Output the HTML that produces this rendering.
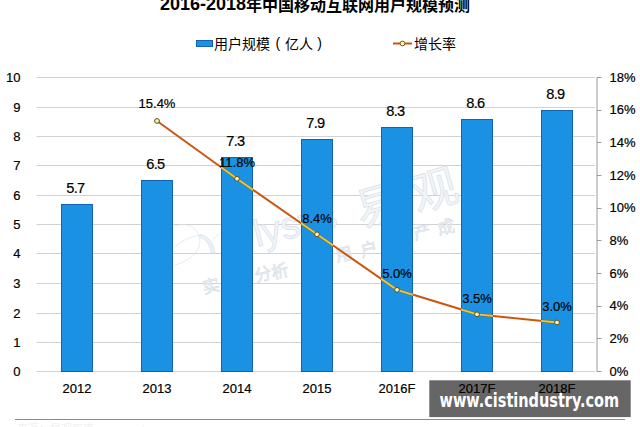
<!DOCTYPE html>
<html><head><meta charset="utf-8"><style>
html,body{margin:0;padding:0;background:#fff;width:640px;height:427px;overflow:hidden}
svg{display:block}
text{font-family:"Liberation Sans", "Noto Sans CJK SC", sans-serif}
</style></head><body>
<svg width="640" height="427" viewBox="0 0 640 427">
<rect width="640" height="427" fill="#fff"/>

<line x1="36.5" y1="371.5" x2="595.0" y2="371.5" stroke="#d2d2d2" stroke-width="1"/>
<line x1="36.5" y1="342.5" x2="595.0" y2="342.5" stroke="#d2d2d2" stroke-width="1"/>
<line x1="36.5" y1="313.5" x2="595.0" y2="313.5" stroke="#d2d2d2" stroke-width="1"/>
<line x1="36.5" y1="283.5" x2="595.0" y2="283.5" stroke="#d2d2d2" stroke-width="1"/>
<line x1="36.5" y1="253.5" x2="595.0" y2="253.5" stroke="#d2d2d2" stroke-width="1"/>
<line x1="36.5" y1="224.5" x2="595.0" y2="224.5" stroke="#d2d2d2" stroke-width="1"/>
<line x1="36.5" y1="195.5" x2="595.0" y2="195.5" stroke="#d2d2d2" stroke-width="1"/>
<line x1="36.5" y1="165.5" x2="595.0" y2="165.5" stroke="#d2d2d2" stroke-width="1"/>
<line x1="36.5" y1="136.5" x2="595.0" y2="136.5" stroke="#d2d2d2" stroke-width="1"/>
<line x1="36.5" y1="107.5" x2="595.0" y2="107.5" stroke="#d2d2d2" stroke-width="1"/>
<line x1="36.5" y1="77.5" x2="595.0" y2="77.5" stroke="#d2d2d2" stroke-width="1"/>
<g fill="#f1f5f8" stroke="#d8e1e9" stroke-width="0.7" font-family='"Liberation Sans","Noto Sans CJK SC",sans-serif'>
<path d="M175,226 C185,222 196,226 199,236 C203,248 193,260 175,265" fill="none"/>
<path d="M175,247 C182,240 192,236 201,235 M213,239 L219,234" fill="none"/><path d="M200,234.5 C208,235 214,243 215,253 L211,253 C210,245 206,239 200,237.5 Z" fill="#e9f0f6"/>
<text transform="translate(257,247) rotate(-14)" font-size="38">lysys</text>
<text transform="translate(361,228) rotate(-16)" font-size="46" letter-spacing="12">易观</text>
<text x="204 256 273 337 362 415 439" y="294 282 279 262 257 240 235" rotate="-13" font-size="17">实分析用户产成</text>
</g>
<rect x="61.50" y="204.50" width="31" height="167.00" fill="#1b91e3" stroke="#1262b0" stroke-width="1"/>
<rect x="141.50" y="180.50" width="31" height="191.00" fill="#1b91e3" stroke="#1262b0" stroke-width="1"/>
<rect x="221.50" y="157.50" width="31" height="214.00" fill="#1b91e3" stroke="#1262b0" stroke-width="1"/>
<rect x="301.50" y="139.50" width="31" height="232.00" fill="#1b91e3" stroke="#1262b0" stroke-width="1"/>
<rect x="381.50" y="127.50" width="31" height="244.00" fill="#1b91e3" stroke="#1262b0" stroke-width="1"/>
<rect x="461.50" y="119.50" width="31" height="252.00" fill="#1b91e3" stroke="#1262b0" stroke-width="1"/>
<rect x="541.50" y="110.50" width="31" height="261.00" fill="#1b91e3" stroke="#1262b0" stroke-width="1"/>
<line x1="597.0" y1="77" x2="597.0" y2="372" stroke="#9a9a9a" stroke-width="1"/>
<line x1="597.0" y1="371.5" x2="601.5" y2="371.5" stroke="#9a9a9a" stroke-width="1"/>
<line x1="597.0" y1="338.5" x2="601.5" y2="338.5" stroke="#9a9a9a" stroke-width="1"/>
<line x1="597.0" y1="306.5" x2="601.5" y2="306.5" stroke="#9a9a9a" stroke-width="1"/>
<line x1="597.0" y1="273.5" x2="601.5" y2="273.5" stroke="#9a9a9a" stroke-width="1"/>
<line x1="597.0" y1="240.5" x2="601.5" y2="240.5" stroke="#9a9a9a" stroke-width="1"/>
<line x1="597.0" y1="208.5" x2="601.5" y2="208.5" stroke="#9a9a9a" stroke-width="1"/>
<line x1="597.0" y1="175.5" x2="601.5" y2="175.5" stroke="#9a9a9a" stroke-width="1"/>
<line x1="597.0" y1="142.5" x2="601.5" y2="142.5" stroke="#9a9a9a" stroke-width="1"/>
<line x1="597.0" y1="110.5" x2="601.5" y2="110.5" stroke="#9a9a9a" stroke-width="1"/>
<line x1="597.0" y1="77.5" x2="601.5" y2="77.5" stroke="#9a9a9a" stroke-width="1"/>
<defs><clipPath id="bc">
<rect x="61.00" y="204.00" width="32" height="168.00"/>
<rect x="141.00" y="180.00" width="32" height="192.00"/>
<rect x="221.00" y="157.00" width="32" height="215.00"/>
<rect x="301.00" y="139.00" width="32" height="233.00"/>
<rect x="381.00" y="127.00" width="32" height="245.00"/>
<rect x="461.00" y="119.00" width="32" height="253.00"/>
<rect x="541.00" y="110.00" width="32" height="262.00"/>
</clipPath></defs>
<path d="M157.00,120.97 L237.00,178.77 L317.00,234.30 L397.00,289.83 L477.00,314.33 L557.00,322.50" fill="none" stroke="#ca560f" stroke-width="2" stroke-linejoin="round"/>
<path d="M157.00,120.97 L237.00,178.77 L317.00,234.30 L397.00,289.83 L477.00,314.33 L557.00,322.50" fill="none" stroke="#7a7030" stroke-width="2.8" clip-path="url(#bc)"/>
<path d="M157.00,120.97 L237.00,178.77 L317.00,234.30 L397.00,289.83 L477.00,314.33 L557.00,322.50" fill="none" stroke="#e4c84a" stroke-width="1.8" clip-path="url(#bc)"/>
<circle cx="157" cy="120.97" r="2.4" fill="#f8f2b8" stroke="#5e4e14" stroke-width="1"/>
<circle cx="237" cy="178.77" r="2.4" fill="#f8f2b8" stroke="#5e4e14" stroke-width="1"/>
<circle cx="317" cy="234.30" r="2.4" fill="#f8f2b8" stroke="#5e4e14" stroke-width="1"/>
<circle cx="397" cy="289.83" r="2.4" fill="#f8f2b8" stroke="#5e4e14" stroke-width="1"/>
<circle cx="477" cy="314.33" r="2.4" fill="#f8f2b8" stroke="#5e4e14" stroke-width="1"/>
<circle cx="557" cy="322.50" r="2.4" fill="#f8f2b8" stroke="#5e4e14" stroke-width="1"/>
<text x="20.5" y="375.80" font-size="13" text-anchor="end" fill="#000" stroke="#000" stroke-width="0.2">0</text>
<text x="20.5" y="346.80" font-size="13" text-anchor="end" fill="#000" stroke="#000" stroke-width="0.2">1</text>
<text x="20.5" y="317.80" font-size="13" text-anchor="end" fill="#000" stroke="#000" stroke-width="0.2">2</text>
<text x="20.5" y="287.80" font-size="13" text-anchor="end" fill="#000" stroke="#000" stroke-width="0.2">3</text>
<text x="20.5" y="257.80" font-size="13" text-anchor="end" fill="#000" stroke="#000" stroke-width="0.2">4</text>
<text x="20.5" y="228.80" font-size="13" text-anchor="end" fill="#000" stroke="#000" stroke-width="0.2">5</text>
<text x="20.5" y="199.80" font-size="13" text-anchor="end" fill="#000" stroke="#000" stroke-width="0.2">6</text>
<text x="20.5" y="169.80" font-size="13" text-anchor="end" fill="#000" stroke="#000" stroke-width="0.2">7</text>
<text x="20.5" y="140.80" font-size="13" text-anchor="end" fill="#000" stroke="#000" stroke-width="0.2">8</text>
<text x="20.5" y="111.80" font-size="13" text-anchor="end" fill="#000" stroke="#000" stroke-width="0.2">9</text>
<text x="20.5" y="81.80" font-size="13" text-anchor="end" fill="#000" stroke="#000" stroke-width="0.2">10</text>
<text x="609.5" y="375.80" font-size="13" fill="#000" stroke="#000" stroke-width="0.2">0%</text>
<text x="609.5" y="343.13" font-size="13" fill="#000" stroke="#000" stroke-width="0.2">2%</text>
<text x="609.5" y="310.47" font-size="13" fill="#000" stroke="#000" stroke-width="0.2">4%</text>
<text x="609.5" y="277.80" font-size="13" fill="#000" stroke="#000" stroke-width="0.2">6%</text>
<text x="609.5" y="245.13" font-size="13" fill="#000" stroke="#000" stroke-width="0.2">8%</text>
<text x="609.5" y="212.47" font-size="13" fill="#000" stroke="#000" stroke-width="0.2">10%</text>
<text x="609.5" y="179.80" font-size="13" fill="#000" stroke="#000" stroke-width="0.2">12%</text>
<text x="609.5" y="147.13" font-size="13" fill="#000" stroke="#000" stroke-width="0.2">14%</text>
<text x="609.5" y="114.47" font-size="13" fill="#000" stroke="#000" stroke-width="0.2">16%</text>
<text x="609.5" y="81.80" font-size="13" fill="#000" stroke="#000" stroke-width="0.2">18%</text>
<text x="75.4" y="193.30" font-size="14.6" letter-spacing="-0.6" text-anchor="middle" fill="#000" stroke="#000" stroke-width="0.2">5.7</text>
<text x="155.4" y="169.30" font-size="14.6" letter-spacing="-0.6" text-anchor="middle" fill="#000" stroke="#000" stroke-width="0.2">6.5</text>
<text x="235.4" y="146.30" font-size="14.6" letter-spacing="-0.6" text-anchor="middle" fill="#000" stroke="#000" stroke-width="0.2">7.3</text>
<text x="315.4" y="128.30" font-size="14.6" letter-spacing="-0.6" text-anchor="middle" fill="#000" stroke="#000" stroke-width="0.2">7.9</text>
<text x="395.4" y="116.30" font-size="14.6" letter-spacing="-0.6" text-anchor="middle" fill="#000" stroke="#000" stroke-width="0.2">8.3</text>
<text x="475.4" y="108.30" font-size="14.6" letter-spacing="-0.6" text-anchor="middle" fill="#000" stroke="#000" stroke-width="0.2">8.6</text>
<text x="555.4" y="99.30" font-size="14.6" letter-spacing="-0.6" text-anchor="middle" fill="#000" stroke="#000" stroke-width="0.2">8.9</text>
<text x="157" y="108.47" font-size="13" text-anchor="middle" fill="#000" stroke="#000" stroke-width="0.2">15.4%</text>
<text x="237" y="167.27" font-size="13" text-anchor="middle" fill="#000" stroke="#000" stroke-width="0.2">11.8%</text>
<text x="317" y="222.80" font-size="13" text-anchor="middle" fill="#000" stroke="#000" stroke-width="0.2">8.4%</text>
<text x="397" y="278.33" font-size="13" text-anchor="middle" fill="#000" stroke="#000" stroke-width="0.2">5.0%</text>
<text x="477" y="302.83" font-size="13" text-anchor="middle" fill="#000" stroke="#000" stroke-width="0.2">3.5%</text>
<text x="557" y="311.00" font-size="13" text-anchor="middle" fill="#000" stroke="#000" stroke-width="0.2">3.0%</text>
<text x="77" y="393" font-size="13" text-anchor="middle" fill="#000" stroke="#000" stroke-width="0.2">2012</text>
<text x="157" y="393" font-size="13" text-anchor="middle" fill="#000" stroke="#000" stroke-width="0.2">2013</text>
<text x="237" y="393" font-size="13" text-anchor="middle" fill="#000" stroke="#000" stroke-width="0.2">2014</text>
<text x="317" y="393" font-size="13" text-anchor="middle" fill="#000" stroke="#000" stroke-width="0.2">2015</text>
<text x="397" y="393" font-size="13" text-anchor="middle" fill="#000" stroke="#000" stroke-width="0.2">2016F</text>
<text x="477" y="393" font-size="13" text-anchor="middle" fill="#000" stroke="#000" stroke-width="0.2">2017F</text>
<text x="557" y="393" font-size="13" text-anchor="middle" fill="#000" stroke="#000" stroke-width="0.2">2018F</text>
<text x="160" y="9.6" font-size="16" font-weight="bold" fill="#000"><tspan font-size="18">2016-2018</tspan><tspan dy="1.3">年中国移动互联网用户规模预测</tspan></text>
<rect x="196.5" y="40.5" width="16" height="6" fill="#1b91e3" stroke="#1262b0" stroke-width="1"/>
<text x="214" y="48.6" font-size="14" fill="#000">用户规模</text>
<text x="275.4" y="48.4" font-size="14" fill="#000">(</text>
<text x="284.9" y="48.6" font-size="14" fill="#000">亿人</text>
<text x="317.2" y="48.4" font-size="14" fill="#000">)</text>
<line x1="393" y1="43.5" x2="412" y2="43.5" stroke="#ca560f" stroke-width="2"/>
<circle cx="402.5" cy="43.5" r="2.4" fill="#f8f2b8" stroke="#6e5c18" stroke-width="1"/>
<text x="414" y="48.6" font-size="14" fill="#000">增长率</text>
<line x1="15" y1="419.5" x2="625" y2="419.5" stroke="#8a8a8a" stroke-width="1"/>
<text x="17" y="433" font-size="11" fill="#f0f0f0">来源：易观智库 www.analysys.cn</text>
<rect x="429.3" y="380.3" width="201.4" height="36.8" fill="#000" fill-opacity="0.6"/>
<text x="439.6" y="407.1" font-size="18.6" font-weight="bold" fill="#fff" style="font-family:'DejaVu Sans Condensed','DejaVu Sans',sans-serif" textLength="179.5" lengthAdjust="spacingAndGlyphs">www.cistindustry.com</text>
</svg></body></html>
